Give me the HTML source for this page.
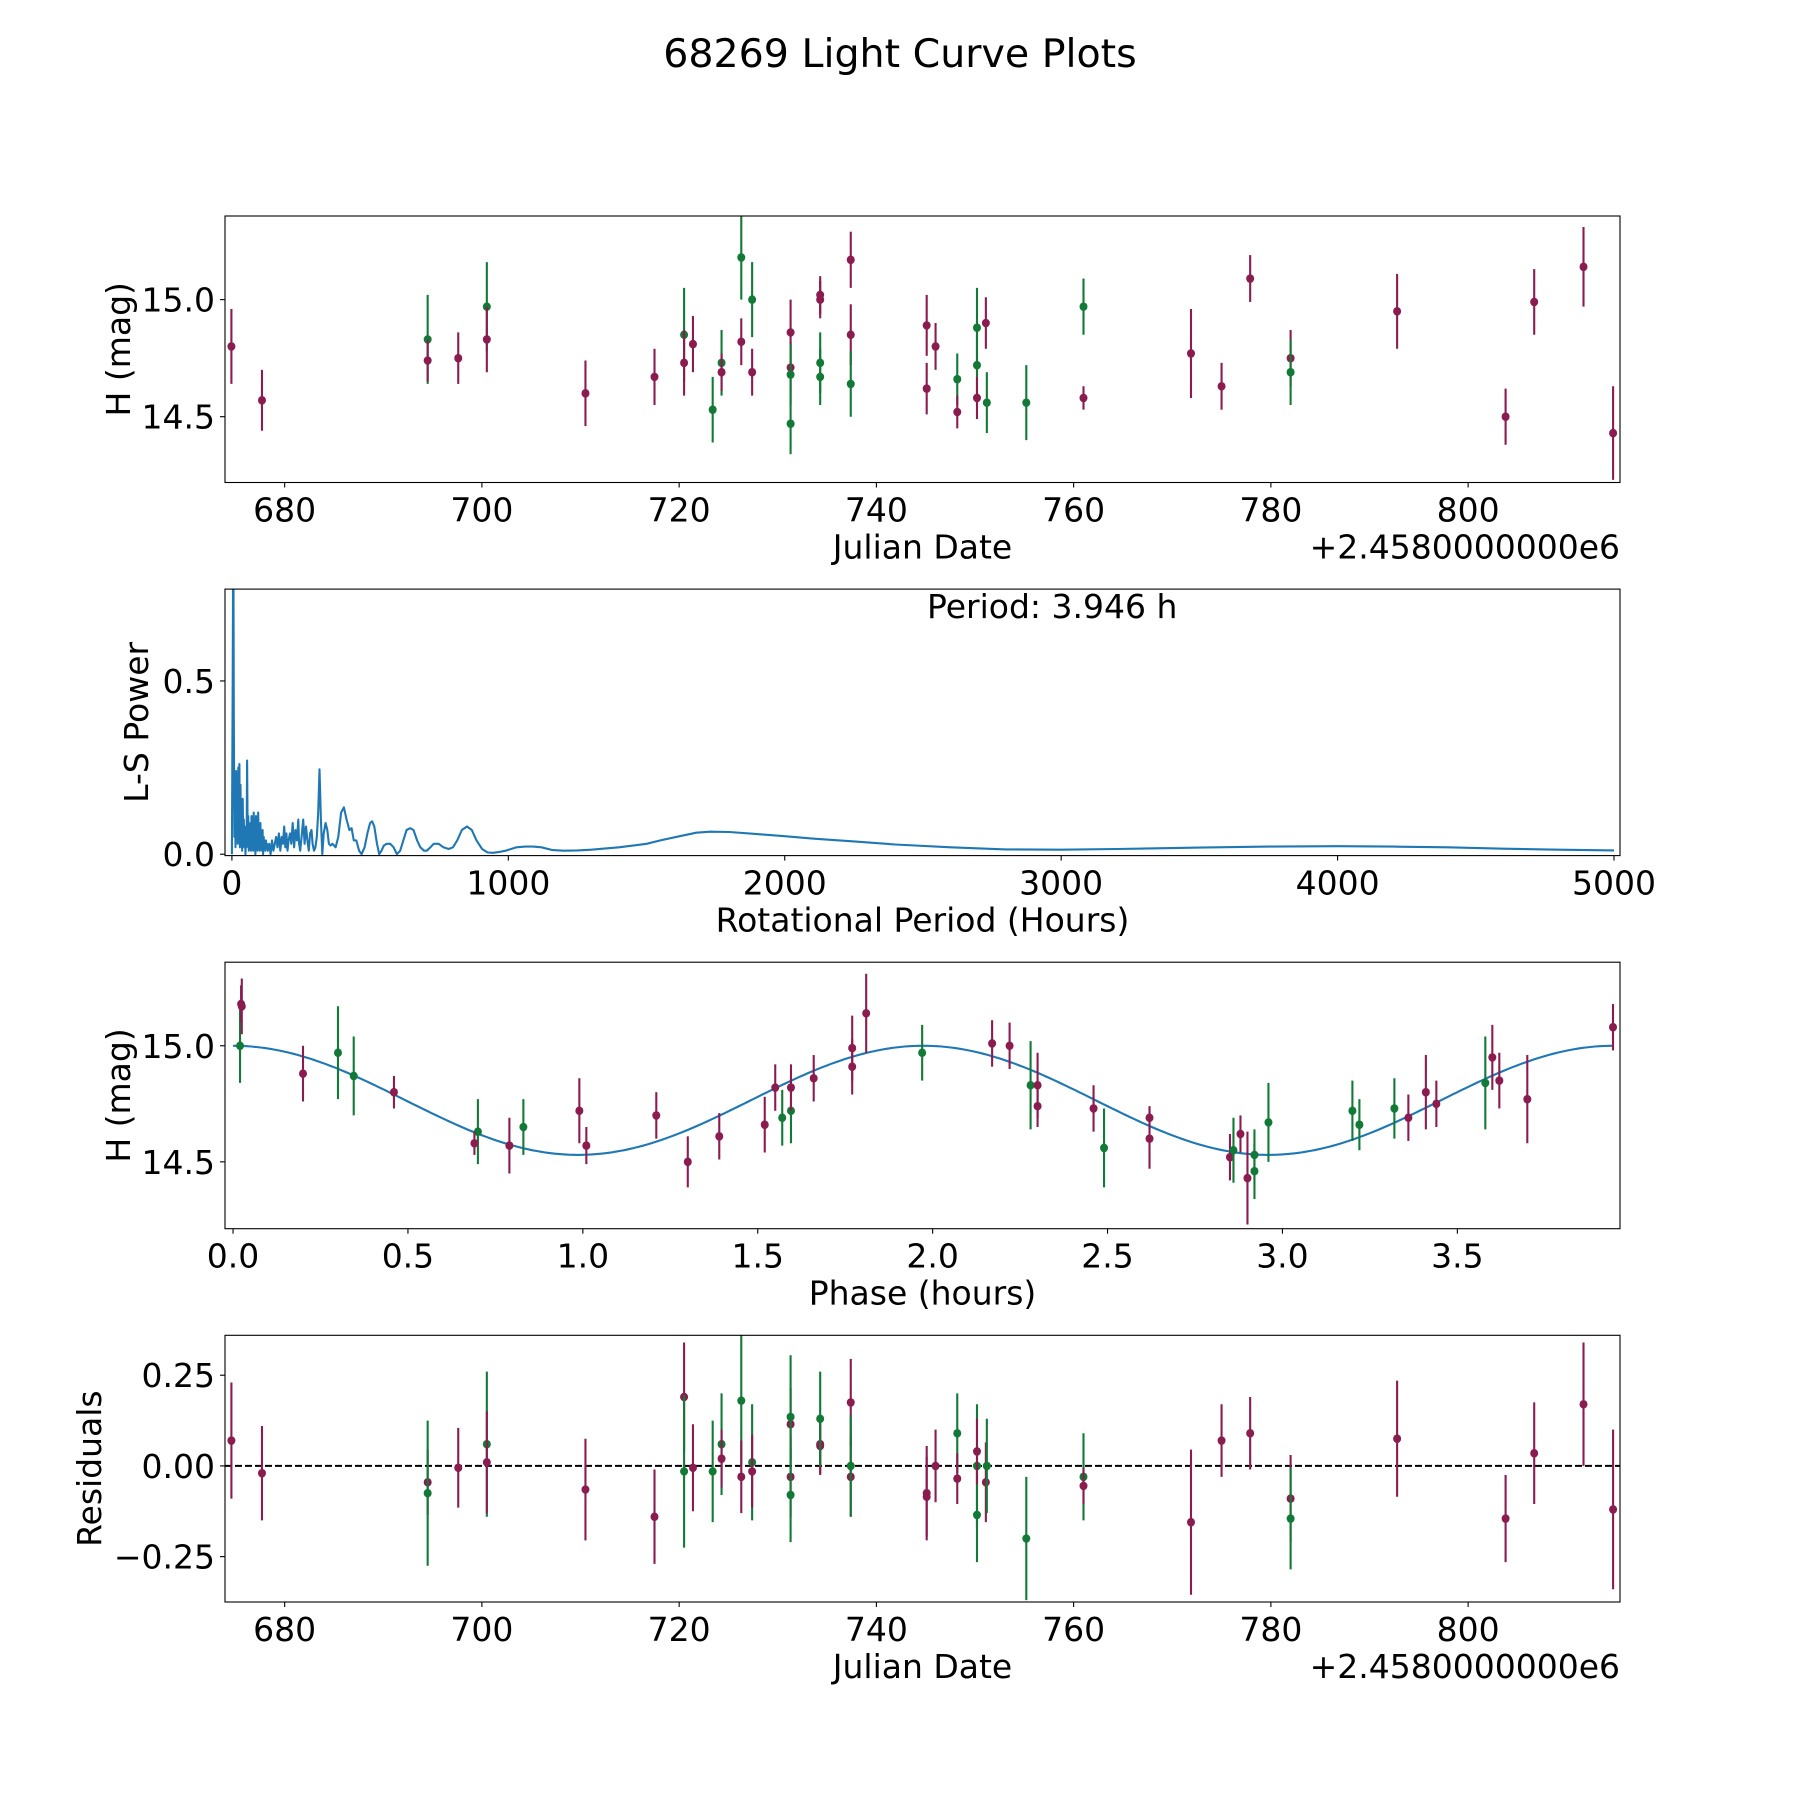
<!DOCTYPE html>
<html><head><meta charset="utf-8"><style>
html,body{margin:0;padding:0;background:#fff;}
svg{display:block;font-family:"DejaVu Sans","Liberation Sans",sans-serif;}
</style></head><body>
<svg id="fig" width="1800" height="1800" viewBox="0 0 1800 1800" xmlns="http://www.w3.org/2000/svg">
<rect width="1800" height="1800" fill="#fff"/>
<text x="900" y="67" font-size="39.5" text-anchor="middle">68269 Light Curve Plots</text>
</svg>
<script>
// ---- Panel 1: light curve vs date ----
const dates1=[674.6,677.7,694.5,694.5,697.6,700.5,700.5,710.5,717.5,720.5,720.5,721.4,723.4,724.3,724.3,726.3,726.3,727.4,727.4,731.3,731.3,731.3,731.3,734.3,734.3,734.3,734.3,737.4,737.4,737.4,745.1,745.1,746.0,748.2,748.2,750.2,750.2,750.2,751.1,751.2,755.2,761.0,761.0,771.9,775.0,777.9,782.0,782.0,792.8,803.8,806.7,811.7,814.7];
const mags1=[14.80,14.57,14.83,14.74,14.75,14.97,14.83,14.60,14.67,14.85,14.73,14.81,14.53,14.73,14.69,15.18,14.82,15.00,14.69,14.86,14.71,14.68,14.47,15.02,15.00,14.73,14.67,15.17,14.85,14.64,14.89,14.62,14.80,14.66,14.52,14.88,14.72,14.58,14.90,14.56,14.56,14.97,14.58,14.77,14.63,15.09,14.75,14.69,14.95,14.50,14.99,15.14,14.43];
const errs1=[0.16,0.13,0.19,0.09,0.11,0.19,0.14,0.14,0.12,0.20,0.14,0.12,0.14,0.14,0.08,0.18,0.10,0.16,0.10,0.14,0.11,0.13,0.13,0.08,0.08,0.13,0.12,0.12,0.13,0.14,0.13,0.11,0.10,0.11,0.07,0.17,0.13,0.09,0.11,0.13,0.16,0.12,0.05,0.19,0.10,0.10,0.12,0.14,0.16,0.12,0.14,0.17,0.20];
const bands1=['r','r','g','r','r','g','r','r','r','g','r','r','g','g','r','g','r','g','r','r','r','g','g','r','r','g','g','r','r','g','r','r','r','g','r','g','g','r','r','g','g','g','r','r','r','r','r','g','r','r','r','r','r'];
const dateTicks=[680,700,720,740,760,780,800];

// ---- Panel 2: periodogram ----
const periods=[
0,3,5,7,9,11,13,15,17,19,
21,23,25,27,29,31,33,35,37,39,
41,43,45,47,49,51,53,55,57,59,
61,63,65,67,69,71,73,75,77,79,
81,83,85,87,89,91,93,95,97,99,
101,103,105,107,109,111,113,115,117,119,
121,123,125,127,130,135,140,145,150,155,
160,165,170,175,180,185,189,193,197,201,
205,210,215,220,225,230,235,240,243,247,
252,258,263,268,273,278,283,288,292,297,
302,307,312,317,322,327,332,339,345,351,
357,364,375,385,395,405,415,425,433,441,
450,460,469,480,490,500,507,515,525,533,
541,550,560,573,585,597,609,620,632,645,
657,670,682,695,705,718,730,748,765,784,
800,815,832,850,868,885,905,925,945,964,
990,1030,1060,1090,1120,1160,1200,1250,1300,1400,
1500,1550,1620,1680,1730,1800,1900,2000,2100,2250,
2400,2600,2800,3000,3200,3500,3750,4000,4200,4400,
4600,4800,5000];
const power=[
0,0.5,1.0,0.4,0.05,0.22,0.02,0.24,0.05,0.2,
0.03,0.25,0.06,0.26,0.02,0.2,0.04,0.13,0.01,0.16,
0.05,0.1,0.02,0.07,0.0,0.08,0.02,0.27,0.03,0.11,
0.01,0.05,0.02,0.09,0.01,0.11,0.02,0.08,0.01,0.12,
0.03,0.06,0.0,0.11,0.02,0.09,0.01,0.12,0.03,0.05,
0.01,0.09,0.02,0.04,0.01,0.07,0.0,0.05,0.02,0.03,
0.01,0.04,0.02,0.03,0.01,0.03,0.0,0.04,0.01,0.03,
0.05,0.02,0.06,0.01,0.05,0.03,0.08,0.02,0.06,0.01,
0.04,0.06,0.03,0.09,0.02,0.07,0.04,0.10,0.03,0.01,
0.05,0.10,0.03,0.08,0.04,0.01,0.06,0.07,0.03,0.01,
0.02,0.05,0.12,0.245,0.10,0.0,0.06,0.09,0.07,0.03,
0.025,0.03,0.02,0.05,0.12,0.135,0.10,0.07,0.075,0.04,
0.04,0.01,0.0,0.02,0.06,0.09,0.095,0.08,0.03,0.0,
0.01,0.025,0.03,0.03,0.02,0.0,0.01,0.04,0.07,0.075,
0.07,0.04,0.02,0.01,0.01,0.02,0.03,0.03,0.02,0.015,
0.02,0.04,0.07,0.08,0.07,0.04,0.015,0.005,0.004,0.006,
0.01,0.02,0.022,0.022,0.02,0.012,0.01,0.011,0.013,0.02,
0.03,0.04,0.052,0.062,0.065,0.064,0.058,0.052,0.045,0.037,
0.028,0.02,0.014,0.013,0.015,0.019,0.022,0.023,0.022,0.02,
0.016,0.013,0.011];
const periodTicks=[0,1000,2000,3000,4000,5000];

// ---- Panel 3: phase folded ----
const phases=[0.02,0.023,0.025,0.30,0.20,0.345,0.46,0.70,0.69,0.79,0.83,0.99,1.01,1.21,1.30,1.39,1.52,1.55,1.57,1.595,1.595,1.66,1.77,1.77,1.81,1.97,2.17,2.22,2.28,2.30,2.30,2.46,2.49,2.62,2.62,2.85,2.86,2.88,2.90,2.92,2.92,2.96,3.20,3.22,3.32,3.36,3.41,3.44,3.58,3.60,3.62,3.70,3.945];
const phaseMags=[15.0,15.18,15.17,14.97,14.88,14.87,14.80,14.63,14.58,14.57,14.65,14.72,14.57,14.70,14.50,14.61,14.66,14.82,14.69,14.72,14.82,14.86,14.99,14.91,15.14,14.97,15.01,15.0,14.83,14.83,14.74,14.73,14.56,14.60,14.69,14.52,14.55,14.62,14.43,14.53,14.46,14.67,14.72,14.66,14.73,14.69,14.80,14.75,14.84,14.95,14.85,14.77,15.08];
const phaseErrs=[0.16,0.08,0.12,0.20,0.12,0.17,0.07,0.14,0.05,0.12,0.12,0.14,0.08,0.10,0.11,0.10,0.12,0.10,0.12,0.14,0.10,0.10,0.14,0.12,0.17,0.12,0.10,0.10,0.19,0.14,0.09,0.10,0.17,0.13,0.05,0.10,0.14,0.08,0.20,0.11,0.12,0.17,0.13,0.11,0.13,0.10,0.16,0.10,0.20,0.14,0.12,0.19,0.10];
const phaseBands=['g','r','r','g','r','g','r','g','r','r','g','r','r','r','r','r','r','r','g','g','r','r','r','r','r','g','r','r','g','r','r','r','g','r','r','r','g','r','r','g','g','g','g','g','g','r','r','r','g','r','r','r','r'];
const phaseTicks=[0.0,0.5,1.0,1.5,2.0,2.5,3.0,3.5];
const modelPeriod=3.946, modelMean=14.765, modelAmp=0.235;

// ---- Panel 4: residuals ----
const resDates=[674.6,677.7,694.5,694.5,697.6,700.5,700.5,710.5,717.5,720.5,720.5,721.4,723.4,724.3,724.3,726.3,726.3,727.4,727.4,731.3,731.3,731.3,731.3,734.3,734.3,734.3,737.4,737.4,737.4,745.1,745.1,746.0,748.2,748.2,750.2,750.2,750.2,751.1,751.2,755.2,761.0,761.0,771.9,775.0,777.9,782.0,782.0,792.8,803.8,806.7,811.7,814.7];
const resVals=[0.07,-0.02,-0.045,-0.075,-0.005,0.06,0.01,-0.065,-0.14,0.19,-0.015,-0.005,-0.015,0.06,0.02,0.18,-0.03,0.01,-0.015,0.115,-0.03,0.135,-0.08,0.06,0.055,0.13,0.175,-0.03,0.0,-0.075,-0.085,0.0,0.09,-0.035,-0.135,0.0,0.04,-0.045,0.0,-0.2,-0.03,-0.055,-0.155,0.07,0.09,-0.09,-0.145,0.075,-0.145,0.035,0.17,-0.12];
const resErrs=[0.16,0.13,0.09,0.20,0.11,0.20,0.14,0.14,0.13,0.15,0.21,0.12,0.14,0.14,0.08,0.18,0.10,0.16,0.10,0.10,0.11,0.17,0.13,0.08,0.08,0.13,0.12,0.11,0.14,0.13,0.11,0.10,0.11,0.07,0.13,0.17,0.09,0.11,0.13,0.17,0.12,0.05,0.20,0.10,0.10,0.12,0.14,0.16,0.12,0.14,0.17,0.22];
const resBands=['r','r','r','g','r','g','r','r','r','r','g','r','g','g','r','g','r','g','r','r','r','g','g','r','r','g','r','r','g','r','r','r','g','r','g','g','r','r','g','g','g','r','r','r','r','r','g','r','r','r','r','r'];
const resTicks=[0.25,0.0,-0.25];

const NS='http://www.w3.org/2000/svg';
const svg=document.getElementById('fig');
const COL={r:'#8a1c50',g:'#127a36'};
const L=225,R=1620,FS=33;
function mk(tag,attrs,parent){const e=document.createElementNS(NS,tag);for(const k in attrs)e.setAttribute(k,attrs[k]);(parent||svg).appendChild(e);return e;}
function scale(d0,d1,r0,r1){return v=>r0+(v-d0)/(d1-d0)*(r1-r0);}
function fmt(v,dec){let s=v.toFixed(dec);if(v<0)s='\u2212'+s.slice(1);return s;}

function axes(id,top,bot,xs,ys,xt,xdec,yt,ydec,xlabel,ylabel,ylabX){
  const g=mk('g',{});
  
  
  const cp=mk('clipPath',{id:id+'-clip'},g);
  mk('rect',{x:L,y:top,width:R-L,height:bot-top},cp);
  const data=mk('g',{'clip-path':'url(#'+id+'-clip)'},g);
  
  
  xt.forEach(v=>{const x=xs(v);
    const t=mk('line',{x1:x,x2:x,y1:bot,y2:bot+5,stroke:'#000','stroke-width':1.1},g);
    
    
    const tx=mk('text',{x:x,y:bot+39,'font-size':FS,'text-anchor':'middle'},g);tx.textContent=fmt(v,xdec);
    
    
  });
  yt.forEach(v=>{const y=ys(v);
    const t=mk('line',{x1:L-5,x2:L,y1:y,y2:y,stroke:'#000','stroke-width':1.1},g);
    
    
    const tx=mk('text',{x:L-10,y:y+12,'font-size':FS,'text-anchor':'end'},g);tx.textContent=fmt(v,ydec);
    
    
  });
  const xl=mk('text',{x:(L+R)/2,y:bot+76,'font-size':FS,'text-anchor':'middle'},g);xl.textContent=xlabel;
  
  
  const yc=(top+bot)/2;
  const yl=mk('text',{x:ylabX,y:yc,'font-size':FS,'text-anchor':'middle',transform:'rotate(-90 '+ylabX+' '+yc+')'},g);yl.textContent=ylabel;
  
  
  return {g,data};
}
function frame(g,top,bot){const f=mk('rect',{x:L,y:top,width:R-L,height:bot-top,fill:'none',stroke:'#000','stroke-width':1.1},g);
  
  }
function errpoints(parent,xsArr,ysArr,esArr,bs,xs,ys,name){
  for(let i=0;i<xsArr.length;i++){
    const x=xs(xsArr[i]),c=COL[bs[i]];
    const l=mk('line',{x1:x,x2:x,y1:ys(ysArr[i]+esArr[i]),y2:ys(ysArr[i]-esArr[i]),stroke:c,'stroke-width':2.1},parent);
    
    
    const p=mk('ellipse',{cx:x,cy:ys(ysArr[i]),rx:4,ry:4.3,fill:c},parent);
    
    
  }
}
function addOffset(g,y){const t=mk('text',{x:R,y:y,'font-size':FS,'text-anchor':'end'},g);t.textContent='+2.4580000000e6';
  
  }

// Panel 1
{const top=216,bot=482.5;const xs=scale(673.95,815.4,L,R),ys=scale(14.219,15.357,bot,top);
 const a=axes('lightcurve',top,bot,xs,ys,dateTicks,0,[14.5,15.0],1,'Julian Date','H (mag)',130);
 errpoints(a.data,dates1,mags1,errs1,bands1,xs,ys,'lightcurve');frame(a.g,top,bot);addOffset(a.g,bot+76);}
// Panel 2
{const top=589.1,bot=855.6;const xs=scale(-25,5021.7,L,R),ys=scale(-0.004,0.765,bot,top);
 const a=axes('periodogram',top,bot,xs,ys,periodTicks,0,[0.0,0.5],1,'Rotational Period (Hours)','L-S Power',148);
 const pts=periods.map((p,i)=>xs(p).toFixed(1)+','+ys(power[i]).toFixed(1)).join(' ');
 const pl=mk('polyline',{points:pts,fill:'none',stroke:'#1f77b4','stroke-width':2.1,'stroke-linejoin':'round'},a.data);
 
 
 frame(a.g,top,bot);
 const t=mk('text',{x:927,y:618,'font-size':FS},a.g);t.textContent='Period: 3.946 h';
 
 }
// Panel 3
{const top=962.2,bot=1228.7;const xs=scale(-0.023,3.965,L,R),ys=scale(14.212,15.36,bot,top);
 const a=axes('phase',top,bot,xs,ys,phaseTicks,1,[14.5,15.0],1,'Phase (hours)','H (mag)',130);
 let pts=[];for(let i=0;i<=300;i++){const ph=modelPeriod*i/300;pts.push(xs(ph).toFixed(1)+','+ys(modelMean+modelAmp*Math.cos(4*Math.PI*ph/modelPeriod)).toFixed(1));}
 const m=mk('polyline',{points:pts.join(' '),fill:'none',stroke:'#1f77b4','stroke-width':2.1},a.data);
 
 
 errpoints(a.data,phases,phaseMags,phaseErrs,phaseBands,xs,ys,'phase');frame(a.g,top,bot);}
// Panel 4
{const top=1335.3,bot=1602;const xs=scale(673.95,815.4,L,R),ys=scale(-0.375,0.36,bot,top);
 const a=axes('residuals',top,bot,xs,ys,dateTicks,0,resTicks,2,'Julian Date','Residuals',101);
 const z=mk('line',{x1:L,x2:R,y1:ys(0),y2:ys(0),stroke:'#000','stroke-width':2,'stroke-dasharray':'7,3'},a.data);
 
 
 errpoints(a.data,resDates,resVals,resErrs,resBands,xs,ys,'residual');frame(a.g,top,bot);addOffset(a.g,bot+76);}
</script>
</body></html>
